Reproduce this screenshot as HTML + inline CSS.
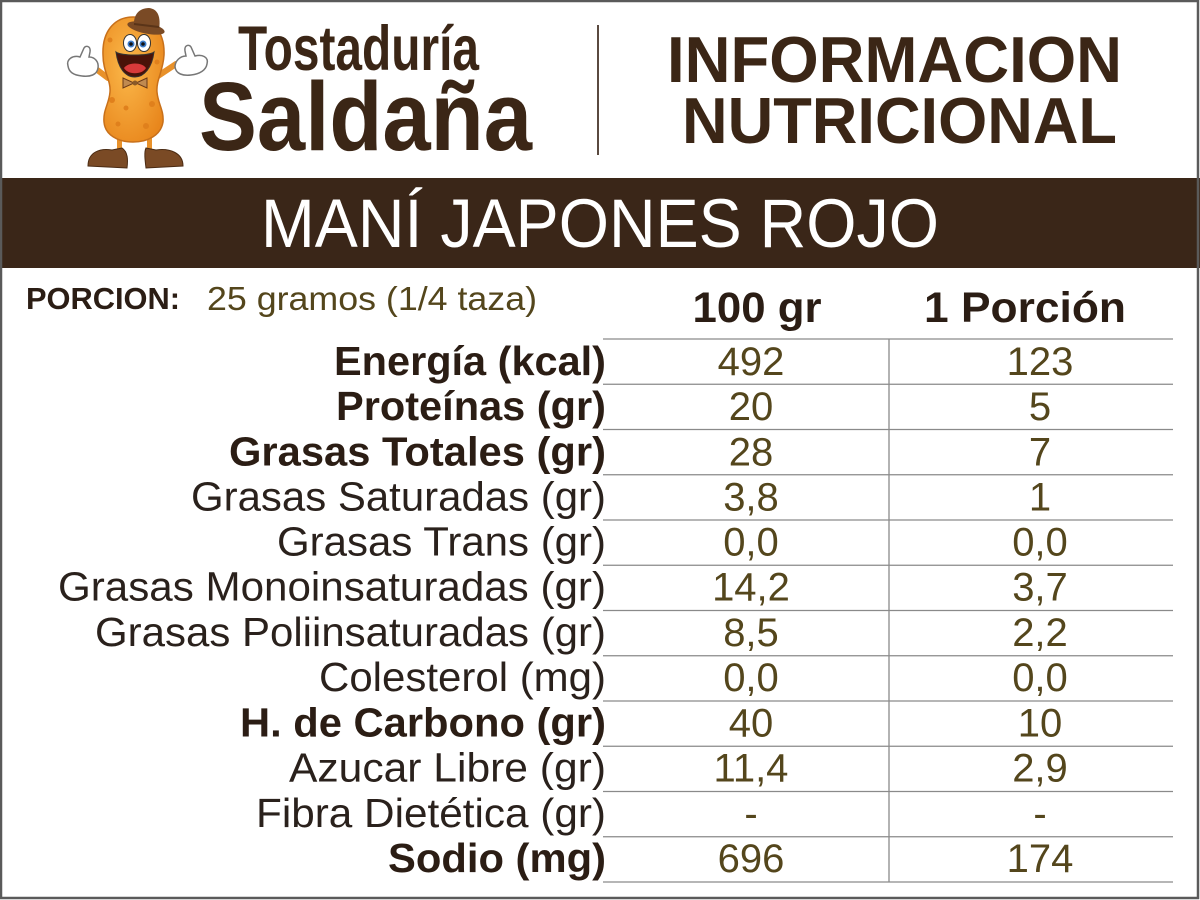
<!DOCTYPE html>
<html>
<head>
<meta charset="utf-8">
<style>
  html,body{margin:0;padding:0;background:#fff;}
  svg{display:block;}
</style>
</head>
<body>
<svg width="1200" height="900" viewBox="0 0 1200 900" xmlns="http://www.w3.org/2000/svg">
  <rect x="0" y="0" width="1200" height="900" fill="#ffffff"/>

  <!-- Peanut mascot -->
  <g>
    <rect x="117" y="134" width="5" height="18" fill="#e8912a"/>
    <rect x="147" y="134" width="5" height="18" fill="#e8912a"/>
    <path d="M88,166 C88,152 100,148 112,150 L122,148 C128,152 128,160 127,168 Z" fill="#7a4a25" stroke="#4a2a12" stroke-width="1"/>
    <path d="M146,148 L156,150 C170,148 183,153 183,166 L146,168 C145,160 144,152 146,148 Z" fill="#7a4a25" stroke="#4a2a12" stroke-width="1"/>
    <path d="M108,78 L92,66" stroke="#e8912a" stroke-width="6" stroke-linecap="round"/>
    <path d="M158,76 L176,64" stroke="#e8912a" stroke-width="6" stroke-linecap="round"/>
    <path d="M68,66 C66,59 73,55 80,57 L84,48 C86,45 91,46 90,52 L89,57 C95,57 99,62 98,68 C97,75 90,77 82,76 C73,75 69,72 68,66 Z" fill="#ffffff" stroke="#777" stroke-width="1.5"/>
    <path d="M207,64 C209,57 202,54 195,56 L191,47 C189,44 184,45 185,51 L186,56 C180,56 175,61 175,67 C176,74 183,76 191,75 C200,74 206,70 207,64 Z" fill="#ffffff" stroke="#777" stroke-width="1.5"/>
    <defs>
      <radialGradient id="pg" cx="0.4" cy="0.4" r="0.7">
        <stop offset="0" stop-color="#fbb84a"/>
        <stop offset="1" stop-color="#e8861c"/>
      </radialGradient>
    </defs>
    <path d="M133,17 C152,17 165,32 164,55 C163,72 156,80 157,92 C158,104 164,110 163,122 C161,135 148,142 133,142 C118,142 105,135 104,122 C103,110 109,104 110,92 C111,80 103,72 103,55 C102,32 114,17 133,17 Z" fill="url(#pg)" stroke="#c8701a" stroke-width="1.5"/>
    <circle cx="112" cy="100" r="3" fill="#e0801c"/>
    <circle cx="126" cy="108" r="2.5" fill="#e0801c"/>
    <circle cx="152" cy="104" r="3" fill="#e0801c"/>
    <circle cx="118" cy="124" r="2.5" fill="#e0801c"/>
    <circle cx="146" cy="126" r="3" fill="#e0801c"/>
    <circle cx="110" cy="40" r="2.5" fill="#e0801c"/>
    <circle cx="157" cy="62" r="2.5" fill="#e0801c"/>
    <ellipse cx="146" cy="28" rx="19" ry="5.5" fill="#7a4a25" transform="rotate(12 146 28)"/>
    <path d="M134,26 C133,15 139,8 149,8 C158,9 161,17 159,30 Z" fill="#7a4a25"/>
    <path d="M134,24 L159,27" stroke="#5a3418" stroke-width="2"/>
    <ellipse cx="130" cy="43" rx="6.5" ry="8.5" fill="#fff" stroke="#333" stroke-width="1"/>
    <ellipse cx="144" cy="43" rx="6.5" ry="8.5" fill="#fff" stroke="#333" stroke-width="1"/>
    <circle cx="131" cy="44" r="3.5" fill="#3d7cc9"/>
    <circle cx="143" cy="44" r="3.5" fill="#3d7cc9"/>
    <circle cx="131" cy="44" r="1.8" fill="#111"/>
    <circle cx="143" cy="44" r="1.8" fill="#111"/>
    <path d="M116,52 C120,56 150,56 154,52 C152,68 144,77 135,77 C125,77 118,68 116,52 Z" fill="#4a1208" stroke="#333" stroke-width="1"/>
    <path d="M124,68 C128,62 142,62 146,68 C142,75 128,75 124,68 Z" fill="#d83a3a"/>
    <path d="M123,78 L134,83 L123,88 Z" fill="#c08a50" stroke="#6a3a18" stroke-width="1"/>
    <path d="M147,78 L136,83 L147,88 Z" fill="#c08a50" stroke="#6a3a18" stroke-width="1"/>
    <circle cx="135" cy="83" r="2.5" fill="#8a5a28"/>
  </g>

  <!-- Logo text -->
  <text x="238" y="70" font-family="Liberation Sans, sans-serif" font-weight="bold" font-size="63" fill="#3b2616" textLength="241" lengthAdjust="spacingAndGlyphs">Tostaduría</text>
  <text x="199" y="150" font-family="Liberation Sans, sans-serif" font-weight="bold" font-size="97" fill="#3b2616" textLength="333" lengthAdjust="spacingAndGlyphs">Saldaña</text>

  <rect x="597" y="25" width="2" height="130" fill="#5a4a40"/>

  <text x="667" y="82" font-family="Liberation Sans, sans-serif" font-weight="bold" font-size="65" fill="#3b2616" textLength="455" lengthAdjust="spacingAndGlyphs">INFORMACION</text>
  <text x="682" y="143" font-family="Liberation Sans, sans-serif" font-weight="bold" font-size="65" fill="#3b2616" textLength="435" lengthAdjust="spacingAndGlyphs">NUTRICIONAL</text>

  <rect x="0" y="178" width="1200" height="90" fill="#3a2618"/>
  <text x="261" y="247" font-family="Liberation Sans, sans-serif" font-size="69" fill="#ffffff" textLength="678" lengthAdjust="spacingAndGlyphs">MANÍ JAPONES ROJO</text>

  <text x="26" y="309" font-family="Liberation Sans, sans-serif" font-weight="bold" font-size="31" fill="#2b1d14" textLength="154" lengthAdjust="spacingAndGlyphs">PORCION:</text>
  <text x="207" y="310" font-family="Liberation Sans, sans-serif" font-size="33" fill="#54461c" textLength="330" lengthAdjust="spacingAndGlyphs">25 gramos (1/4 taza)</text>

  <text x="757" y="322" text-anchor="middle" font-family="Liberation Sans, sans-serif" font-weight="bold" font-size="43" fill="#2b1d14" textLength="129" lengthAdjust="spacingAndGlyphs">100 gr</text>
  <text x="1025" y="322" text-anchor="middle" font-family="Liberation Sans, sans-serif" font-weight="bold" font-size="43" fill="#2b1d14" textLength="202" lengthAdjust="spacingAndGlyphs">1 Porción</text>

  <g stroke="#8a8a8a" stroke-width="1.3">
    <line x1="603" y1="339" x2="1173" y2="339"/>
    <line x1="603" y1="384.25" x2="1173" y2="384.25"/>
    <line x1="603" y1="429.5" x2="1173" y2="429.5"/>
    <line x1="603" y1="474.75" x2="1173" y2="474.75"/>
    <line x1="603" y1="520" x2="1173" y2="520"/>
    <line x1="603" y1="565.25" x2="1173" y2="565.25"/>
    <line x1="603" y1="610.5" x2="1173" y2="610.5"/>
    <line x1="603" y1="655.75" x2="1173" y2="655.75"/>
    <line x1="603" y1="701" x2="1173" y2="701"/>
    <line x1="603" y1="746.25" x2="1173" y2="746.25"/>
    <line x1="603" y1="791.5" x2="1173" y2="791.5"/>
    <line x1="603" y1="836.75" x2="1173" y2="836.75"/>
    <line x1="603" y1="882" x2="1173" y2="882"/>
    <line x1="889" y1="339" x2="889" y2="882"/>
  </g>

  <g font-family="Liberation Sans, sans-serif" font-size="41" text-anchor="end" fill="#2a211c">
    <text x="606" y="375" font-weight="bold" fill="#2b1d14" textLength="272" lengthAdjust="spacingAndGlyphs">Energía (kcal)</text>
    <text x="606" y="420" font-weight="bold" fill="#2b1d14" textLength="270" lengthAdjust="spacingAndGlyphs">Proteínas (gr)</text>
    <text x="606" y="465.5" font-weight="bold" fill="#2b1d14" textLength="377" lengthAdjust="spacingAndGlyphs">Grasas Totales (gr)</text>
    <text x="606" y="510.5" textLength="415" lengthAdjust="spacingAndGlyphs">Grasas Saturadas (gr)</text>
    <text x="606" y="555.5" textLength="329" lengthAdjust="spacingAndGlyphs">Grasas Trans (gr)</text>
    <text x="606" y="600.5" textLength="548" lengthAdjust="spacingAndGlyphs">Grasas Monoinsaturadas (gr)</text>
    <text x="606" y="646" textLength="511" lengthAdjust="spacingAndGlyphs">Grasas Poliinsaturadas (gr)</text>
    <text x="606" y="691" textLength="287" lengthAdjust="spacingAndGlyphs">Colesterol (mg)</text>
    <text x="606" y="736.5" font-weight="bold" fill="#2b1d14" textLength="366" lengthAdjust="spacingAndGlyphs">H. de Carbono (gr)</text>
    <text x="606" y="781.5" textLength="317" lengthAdjust="spacingAndGlyphs">Azucar Libre (gr)</text>
    <text x="606" y="827" textLength="350" lengthAdjust="spacingAndGlyphs">Fibra Dietética (gr)</text>
    <text x="606" y="872" font-weight="bold" fill="#2b1d14" textLength="218" lengthAdjust="spacingAndGlyphs">Sodio (mg)</text>
  </g>

  <g font-family="Liberation Sans, sans-serif" font-size="40" text-anchor="middle" fill="#54461c">
    <text x="751" y="375">492</text><text x="1040" y="375">123</text>
    <text x="751" y="420">20</text><text x="1040" y="420">5</text>
    <text x="751" y="465.5">28</text><text x="1040" y="465.5">7</text>
    <text x="751" y="510.5">3,8</text><text x="1040" y="510.5">1</text>
    <text x="751" y="555.5">0,0</text><text x="1040" y="555.5">0,0</text>
    <text x="751" y="600.5">14,2</text><text x="1040" y="600.5">3,7</text>
    <text x="751" y="646">8,5</text><text x="1040" y="646">2,2</text>
    <text x="751" y="691">0,0</text><text x="1040" y="691">0,0</text>
    <text x="751" y="736.5">40</text><text x="1040" y="736.5">10</text>
    <text x="751" y="781.5">11,4</text><text x="1040" y="781.5">2,9</text>
    <text x="751" y="827">-</text><text x="1040" y="827">-</text>
    <text x="751" y="872">696</text><text x="1040" y="872">174</text>
  </g>

  <rect x="1" y="1" width="1197" height="897" fill="none" stroke="#5a5a5a" stroke-width="2.5"/>
</svg>
</body>
</html>
